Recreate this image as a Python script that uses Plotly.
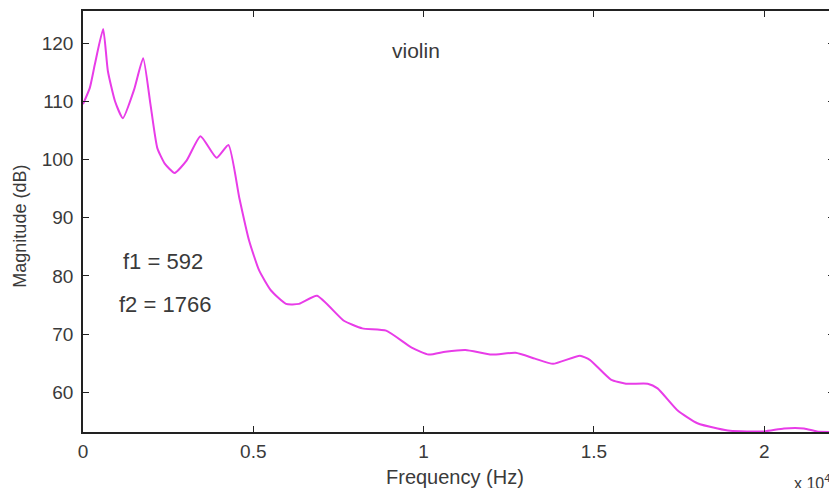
import plotly.graph_objects as go

freq_hz = [0, 200, 350, 592, 730, 940, 1170, 1500, 1766, 1980, 2180, 2400, 2690, 3040,
           3450, 3920, 4270, 4590, 4880, 5175, 5520, 5960, 6345, 6870, 7660, 8200,
           8900, 9650, 10150, 10640, 11230, 12000, 12700, 13270, 13800, 14590, 14880,
           15500, 15940, 16580, 16870, 17460, 18040, 18630, 19000, 20000, 20580,
           21170, 21550, 22050]
magnitude_db = [109.5, 112.3, 116.4, 122.4, 115.2, 110.0, 107.1, 112.0, 117.4, 109.5,
                102.0, 99.3, 97.7, 99.8, 104.0, 100.3, 102.5, 93.4, 86.0, 80.9, 77.5, 75.2,
                75.2, 76.6, 72.3, 71.0, 70.6, 67.7, 66.5, 67.0, 67.3, 66.5, 66.8, 65.8,
                64.9, 66.3, 65.6, 62.2, 61.5, 61.5, 60.7, 56.9, 54.7, 53.8, 53.4, 53.3,
                53.8, 53.8, 53.3, 53.2]

xtick_vals = [0, 5000, 10000, 15000, 20000]
xtick_text = ["0", "0.5", "1", "1.5", "2"]
ytick_vals = [60, 70, 80, 90, 100, 110, 120]

fig = go.Figure()
fig.add_trace(go.Scatter(x=freq_hz, y=magnitude_db, mode="lines",
                         line=dict(color="#e83ce8", width=2, shape="spline", smoothing=0.5),
                         hoverinfo="skip", showlegend=False))

font_family = "Liberation Sans, Arial, sans-serif"
txt = "#3a3a3a"
# page body has an 8px margin, so the figure is shifted by 8px
W, H = 829, 480


def px(x):
    return (x - 83) / 753


def py(y):
    return (432 - y) / 422


def label(text, x, y, size, angle=0):
    return dict(text=text, x=px(x), y=py(y), xref="paper", yref="paper",
                xanchor="center", yanchor="middle", showarrow=False,
                textangle=angle, font=dict(size=size))


fig.update_layout(
    width=W, height=H,
    margin=dict(l=75, r=1, t=2, b=56),
    paper_bgcolor="white", plot_bgcolor="white",
    font=dict(family=font_family, color=txt, size=18),
    xaxis=dict(range=[0, 22050], tickvals=xtick_vals, ticktext=xtick_text,
               showline=True, linecolor="#222222", linewidth=1.5, mirror="ticks",
               ticks="inside", ticklen=6, tickcolor="#222222", showgrid=False, zeroline=False,
               tickfont=dict(size=19, color=txt), ticklabelstandoff=1),
    yaxis=dict(range=[53.2, 125.5], tickvals=ytick_vals,
               showline=True, linecolor="#222222", linewidth=1.5, mirror="ticks",
               ticks="inside", ticklen=6, tickcolor="#222222", showgrid=False, zeroline=False,
               tickfont=dict(size=19, color=txt), ticklabelstandoff=4),
    annotations=[
        label("violin", 417, 50, 21),
        label("f1 = 592", 163, 261, 22),
        label("f2 = 1766", 165, 304, 22),
        label("Frequency (Hz)", 456, 477, 20),
        label("Magnitude (dB)", 20, 226, 18, angle=-90),
        label("x 10<sup>4</sup>", 814, 482, 16),
    ],
)

fig.write_html("out.html")
